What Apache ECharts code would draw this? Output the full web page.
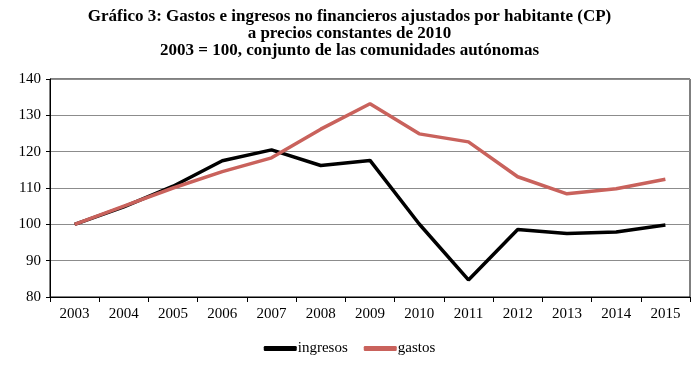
<!DOCTYPE html>
<html><head><meta charset="utf-8">
<script src="https://cdn.jsdelivr.net/npm/echarts@6/dist/echarts.min.js"></script>
<style>html,body{margin:0;padding:0;background:#fff}#c{width:699px;height:366px}</style>
</head><body><div id="c"></div>
<script>
var years = ['2003','2004','2005','2006','2007','2008','2009','2010','2011','2012','2013','2014','2015'];
var ingresos = [100, 104.8, 110.5, 117.5, 120.5, 116.2, 117.6, 100.1, 84.7, 98.6, 97.5, 97.9, 99.8];
var gastos = [100, 105, 110, 114.5, 118.3, 126.2, 133.2, 124.9, 122.7, 113.1, 108.4, 109.8, 112.4];
var yTicks = [80, 90, 100, 110, 120, 130, 140];
var titleLines = ['Gráfico 3: Gastos e ingresos no financieros ajustados por habitante (CP)', 'a precios constantes de 2010', '2003 = 100, conjunto de las comunidades autónomas'];

var chart = echarts.init(document.getElementById('c'));
var serif = '"Liberation Serif", "DejaVu Serif", serif';
chart.setOption({
  animation: false,
  title: {
    text: titleLines.join('\n'),
    left: 'center', top: 3,
    textStyle: { fontFamily: serif, fontWeight: 'bold', fontSize: 17, lineHeight: 17, color: '#000' }
  },
  grid: { left: 50, right: 9, top: 79, bottom: 69, show: true, borderColor: '#000', borderWidth: 1 },
  legend: {
    data: ['ingresos', 'gastos'], bottom: 5, left: 'center',
    itemWidth: 33, itemHeight: 5, itemGap: 16,
    icon: 'roundRect',
    textStyle: { fontFamily: serif, fontSize: 15, color: '#000', padding: [0, 0, 0, -4] }
  },
  xAxis: {
    type: 'category', data: years, boundaryGap: true,
    axisLine: { lineStyle: { color: '#000', width: 1 } },
    axisTick: { show: true, alignWithLabel: false, length: 5, lineStyle: { color: '#000' } },
    axisLabel: { fontFamily: serif, fontSize: 15, color: '#000', margin: 10 }
  },
  yAxis: {
    type: 'value', min: 80, max: 140, interval: 10,
    axisLine: { show: true, lineStyle: { color: '#000' } },
    axisTick: { show: true, length: 4, lineStyle: { color: '#000' } },
    axisLabel: { fontFamily: serif, fontSize: 15, color: '#000', margin: 9 },
    splitLine: { lineStyle: { color: '#8c8c8c', width: 1 } }
  },
  series: [
    { name: 'ingresos', type: 'line', data: ingresos, symbol: 'none', lineStyle: { color: '#000', width: 3.5 }, itemStyle: { color: '#000' } },
    { name: 'gastos', type: 'line', data: gastos, symbol: 'none', lineStyle: { color: '#c9625c', width: 3.5 }, itemStyle: { color: '#c9625c' } }
  ]
});
</script></body></html>
